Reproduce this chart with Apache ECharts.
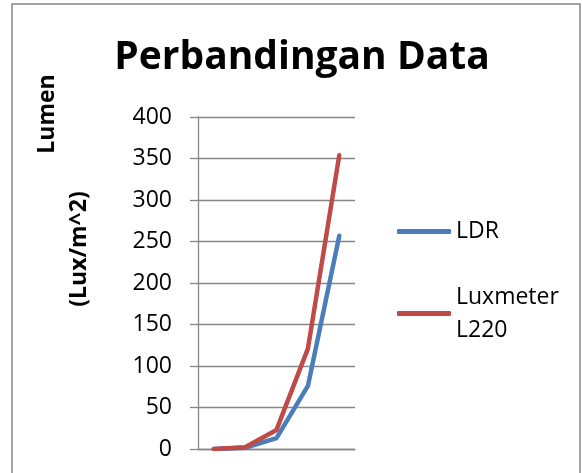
<!DOCTYPE html>
<html>
<head>
<meta charset="utf-8">
<script src="https://cdn.jsdelivr.net/npm/echarts@6/dist/echarts.min.js"></script>
<style>
  html, body { margin: 0; padding: 0; background: #fff; }
  #chart { width: 582px; height: 473px; }
</style>
</head>
<body>
<div id="chart"></div>
<script>
// data
var categories = ['1', '2', '3', '4', '5'];
var ldrValues = [0, 1.5, 13, 76, 257];
var luxmeterValues = [0, 2, 23, 121, 354];
var yTicks = { min: 0, max: 400, interval: 50 };

var FONT = '"Open Sans", "Noto Sans", sans-serif';
var GRAY = '#878787';

var myChart = echarts.init(document.getElementById('chart'));
myChart.setOption({
    animation: false,
    color: ['#4a7ebb', '#be4b48'],
    title: {
        text: 'Perbandingan Data',
        left: 297,
        top: 33,
        textAlign: 'center',
        textStyle: { fontFamily: FONT, fontSize: 39, fontWeight: 'bold', color: '#000' }
    },
    graphic: [
        /* chart frame */
        { type: 'rect', shape: { x: 12, y: 4, width: 568, height: 520 }, style: { fill: 'none', stroke: GRAY, lineWidth: 1.5 }, silent: true },
        /* axis title, wrapped on two lines like the original */
        { type: 'text', x: 47, y: 114, rotation: Math.PI / 2,
          style: { text: 'Lumen', font: 'bold 23px ' + FONT, fill: '#000', align: 'center', verticalAlign: 'middle' } },
        { type: 'text', x: 79, y: 249, rotation: Math.PI / 2,
          style: { text: '(Lux/m^2)', font: 'bold 23px ' + FONT, fill: '#000', align: 'center', verticalAlign: 'middle' } }
    ],
    legend: {
        orient: 'vertical',
        left: 392,
        top: 210,
        itemWidth: 54,
        itemHeight: 5,
        itemGap: 16,
        icon: 'roundRect',
        formatter: function (name) { return name.replace(' ', '\n'); },
        textStyle: { fontFamily: FONT, fontSize: 23, color: '#000', lineHeight: 33 },
        data: [
            { name: 'LDR' },
            { name: 'Luxmeter L220', textStyle: { padding: [33, 0, 0, 0] } }
        ]
    },
    grid: { left: 198, right: 227, top: 117, bottom: 24 },
    xAxis: {
        type: 'category',
        data: categories,
        boundaryGap: true,
        axisLine: { lineStyle: { color: GRAY, width: 1.3 } },
        axisTick: { show: false },
        axisLabel: { show: false }
    },
    yAxis: {
        type: 'value',
        min: yTicks.min,
        max: yTicks.max,
        interval: yTicks.interval,
        axisLine: { show: true, lineStyle: { color: GRAY, width: 1.3 } },
        axisTick: { show: true, length: 8, lineStyle: { color: GRAY, width: 1.3 } },
        axisLabel: { margin: 26, fontFamily: FONT, fontSize: 23, color: '#000' },
        splitLine: { lineStyle: { color: GRAY, width: 1.3 } }
    },
    series: [{
        name: 'LDR',
        type: 'line',
        data: ldrValues,
        symbol: 'none',
        lineStyle: { width: 4.5, cap: 'round' }
    }, {
        name: 'Luxmeter L220',
        type: 'line',
        data: luxmeterValues,
        symbol: 'none',
        lineStyle: { width: 4.5, cap: 'round' }
    }]
});
</script>
</body>
</html>
